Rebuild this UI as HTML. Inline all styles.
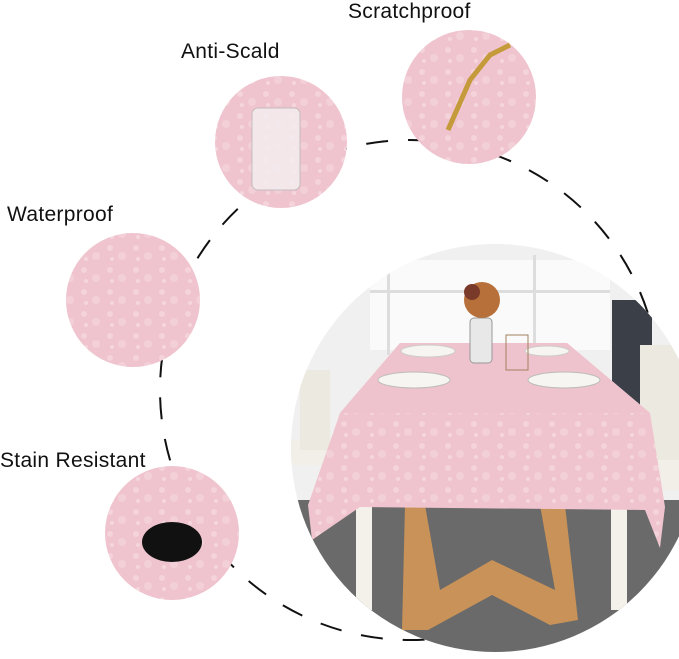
<!DOCTYPE html>
<html><head><style>
html,body{margin:0;padding:0;background:#fff;}
body{width:679px;height:659px;position:relative;overflow:hidden;font-family:"Liberation Sans",sans-serif;}
.l{position:absolute;font-size:21px;color:#111;white-space:nowrap;letter-spacing:0.3px;}
</style></head><body>
<svg width="679" height="659" style="position:absolute;left:0;top:0">
<defs>
<clipPath id="big"><circle cx="495" cy="448" r="204"/></clipPath>
<pattern id="fl" width="26" height="22" patternUnits="userSpaceOnUse">
<rect width="26" height="22" fill="#efc4ce"/>
<circle cx="6" cy="6" r="3" fill="#f4d3da"/><circle cx="18" cy="14" r="4" fill="#f3d0d8"/><circle cx="8" cy="17" r="2" fill="#f4d6dc"/>
</pattern>
</defs>
<circle cx="410" cy="390" r="250" fill="none" stroke="#111" stroke-width="2" stroke-dasharray="22 20"/>
<g clip-path="url(#big)">
<rect x="280" y="240" width="420" height="430" fill="#f0f0f0"/>
<rect x="370" y="260" width="240" height="90" fill="#fafafa"/>
<rect x="387" y="255" width="3" height="100" fill="#ddd"/><rect x="533" y="255" width="3" height="100" fill="#ddd"/>
<rect x="370" y="290" width="240" height="3" fill="#ddd"/>
<rect x="612" y="300" width="40" height="150" fill="#3b4048"/>
<rect x="280" y="500" width="420" height="170" fill="#6a6a6a"/>
<rect x="290" y="440" width="70" height="25" fill="#f1efe8"/>
<rect x="300" y="370" width="30" height="80" fill="#ece9e0"/>
<rect x="640" y="345" width="40" height="120" fill="#ece9e0"/>
<rect x="620" y="460" width="60" height="30" fill="#f1efe8"/>
<rect x="356" y="505" width="16" height="105" fill="#f3f1ea"/>
<rect x="611" y="505" width="16" height="105" fill="#f3f1ea"/>
<path d="M405 505 L425 505 L440 590 L492 560 L555 590 L540 505 L565 505 L578 620 L550 625 L492 595 L428 630 L402 630 Z" fill="#c89258"/>
<path d="M400 343 L567 343 L650 413 L665 507 L660 548 L645 510 L360 507 L312 540 L308 505 L340 413 Z" fill="url(#fl)"/>
<path d="M400 343 L567 343 L650 413 L340 413 Z" fill="#efc3cd"/>
<ellipse cx="428" cy="351" rx="27" ry="6" fill="#f7f5f2" stroke="#ccc"/>
<ellipse cx="547" cy="351" rx="22" ry="5" fill="#f7f5f2" stroke="#ccc"/>
<ellipse cx="414" cy="380" rx="36" ry="8" fill="#f7f5f2" stroke="#bbb"/>
<ellipse cx="564" cy="380" rx="36" ry="8" fill="#f7f5f2" stroke="#bbb"/>
<rect x="470" y="318" width="22" height="45" rx="4" fill="#e8e8e8" stroke="#999"/>
<circle cx="482" cy="300" r="18" fill="#b7703a"/><circle cx="472" cy="292" r="8" fill="#7a3a2a"/>
<rect x="506" y="335" width="22" height="35" fill="none" stroke="#a08060"/>
</g>
<circle cx="281" cy="142" r="66" fill="url(#fl)"/>
<rect x="252" y="108" width="48" height="82" rx="6" fill="#f4eef0" stroke="#bbb" opacity="0.85"/>
<circle cx="469" cy="97" r="67" fill="url(#fl)"/>
<path d="M448 130 L470 80 L490 55 L510 45" stroke="#c49a3a" stroke-width="5" fill="none"/>
<circle cx="133" cy="300" r="67" fill="url(#fl)"/>
<circle cx="172" cy="533" r="67" fill="url(#fl)"/>
<ellipse cx="172" cy="542" rx="30" ry="20" fill="#111"/>
</svg>
<div class="l" style="left:348px;top:0px">Scratchproof</div>
<div class="l" style="left:181px;top:40px">Anti-Scald</div>
<div class="l" style="left:7px;top:203px">Waterproof</div>
<div class="l" style="left:0px;top:449px">Stain Resistant</div>
</body></html>
